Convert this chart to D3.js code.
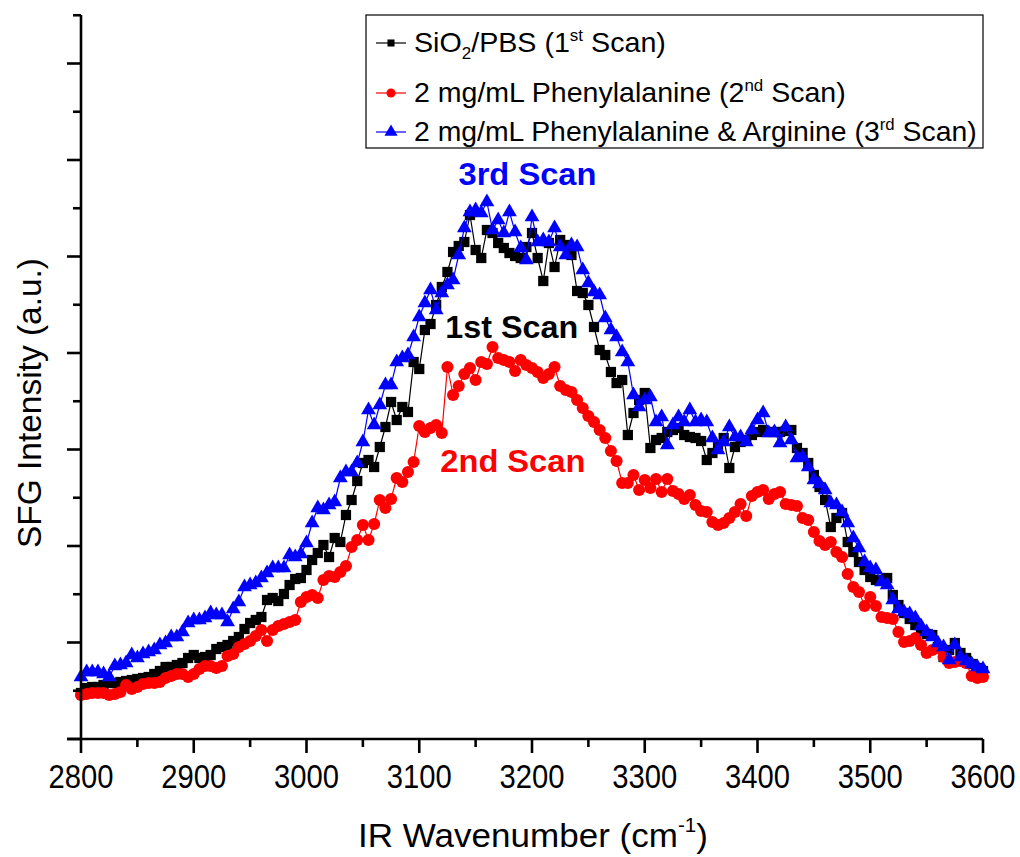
<!DOCTYPE html>
<html><head><meta charset="utf-8">
<script src="https://cdn.jsdelivr.net/npm/d3@7"></script>
<style>
body{margin:0;background:#fff}
svg{display:block}
text{font-family:"Liberation Sans",Arial,sans-serif;fill:#000}
</style>
</head><body>
<svg id="chart" width="1020" height="857"></svg>
<script>
// ---------- data (SFG intensity, arbitrary units) ----------
const wavenumbers = d3.range(2800, 3601, 5);

const scan1 = [46,51,52,52,54,56,56,57,58,59,60,61,62,65,68,72,72,74,76,81,
84,81,82,84,90,92,94,98,102,110,116,119,122,139,141,138,145,154,160,161,
169,179,186,194,182,201,197,224,239,258,276,279,272,292,312,337,319,332,327,377,
370,409,415,434,452,467,487,493,497,524,489,481,509,506,496,491,486,483,481,492,
506,481,458,496,472,499,494,484,448,446,434,412,389,384,367,356,359,304,326,339,
346,291,299,301,307,309,311,304,302,301,298,279,286,294,301,271,292,297,299,304,
307,309,307,307,307,308,309,291,286,276,264,252,239,212,221,226,197,187,177,169,
162,159,159,161,144,134,126,120,114,108,105,104,92,82,89,96,86,81,75,71,68];

const scan2 = [44,45,46,46,46,44,45,47,54,50,52,55,56,56,57,61,63,65,65,62,
65,70,73,73,71,73,83,85,92,95,98,103,109,98,109,113,115,117,119,137,
142,144,141,159,163,162,167,173,192,199,214,199,215,239,231,240,261,257,267,277,
313,307,311,314,306,372,344,353,365,371,359,377,375,392,381,379,377,368,379,374,
371,367,361,365,372,353,349,347,339,331,323,317,309,301,288,278,256,256,264,249,
259,251,260,247,260,248,245,240,244,234,228,227,217,214,216,221,227,235,223,243,
247,249,240,245,247,235,234,233,221,219,207,198,194,197,187,182,165,152,147,133,
142,133,122,121,120,107,97,98,101,94,86,89,91,82,76,77,78,76,63,61,62];

const scan3 = [62,67,67,67,65,62,73,74,76,84,81,85,87,89,94,96,102,102,107,116,
119,119,121,126,124,124,117,130,137,152,154,156,161,166,171,171,171,184,182,185,
196,216,231,229,234,237,261,267,267,276,297,329,314,334,354,354,377,381,384,402,
422,436,449,429,446,454,459,484,511,527,529,526,537,509,519,506,527,507,491,479,
522,497,499,497,511,492,484,494,492,469,456,447,444,421,409,402,387,377,344,332,
339,342,317,322,294,314,322,317,329,317,319,317,301,289,297,312,302,302,297,309,
319,326,306,307,296,312,299,281,282,272,259,255,249,236,234,227,216,201,191,177,
171,169,157,154,139,130,127,125,121,113,107,102,96,92,79,94,82,78,75,72,70];

const xTicks = [2800, 2900, 3000, 3100, 3200, 3300, 3400, 3500, 3600];
const xMinorTicks = [2850, 2950, 3050, 3150, 3250, 3350, 3450, 3550];
const yMajorTicks = [0, 96.5, 193, 289.5, 386, 482.5, 579, 675.5];
const yMinorTicks = [48.25, 144.75, 241.25, 337.75, 434.25, 530.75, 627.25, 723.75];

const series = [
  {name: "scan1", values: scan1, color: "#000000", symbol: d3.symbolSquare, size: 105,
   label: [["SiO",0],["2",1],["/PBS (1",0],["st",2],[" Scan)",0]]},
  {name: "scan2", values: scan2, color: "#ff0000", symbol: d3.symbolCircle, size: 115,
   label: [["2 mg/mL Phenylalanine (2",0],["nd",2],[" Scan)",0]]},
  {name: "scan3", values: scan3, color: "#0000ff", symbol: d3.symbolTriangle, size: 95,
   label: [["2 mg/mL Phenylalanine & Arginine (3",0],["rd",2],[" Scan)",0]]}
];

const annotations = [
  {text: "3rd Scan", color: "#0000ff", x: 3196, y: 554},
  {text: "1st Scan", color: "#000000", x: 3182, y: 401},
  {text: "2nd Scan", color: "#ff0000", x: 3183, y: 267}
];

// ---------- layout ----------
const svg = d3.select("#chart");
const L = 81, R = 983, T = 15, B = 739;
const x = d3.scaleLinear().domain([2800, 3600]).range([L, R]);
const y = d3.scaleLinear().domain([0, 724]).range([B, T]);

function fit(sel, target, anchor) {
  sel.each(function() {
    const bb = this.getBBox();
    const s = target / bb.width;
    const ax = anchor === "middle" ? bb.x + bb.width / 2 : (anchor === "end" ? bb.x + bb.width : bb.x);
    const prev = this.getAttribute("transform") || "";
    this.setAttribute("transform", `${prev} translate(${ax},0) scale(${s},1) translate(${-ax},0)`);
  });
}

// ---------- series ----------
const line = d3.line().x((d, i) => x(wavenumbers[i])).y(d => y(d));
series.forEach(s => {
  const g = svg.append("g");
  g.append("path").attr("d", line(s.values)).attr("fill", "none")
    .attr("stroke", s.color).attr("stroke-width", 1.2);
  g.selectAll("path.m").data(s.values).join("path").attr("class", "m")
    .attr("d", d3.symbol().type(s.symbol).size(s.size))
    .attr("transform", (d, i) => `translate(${x(wavenumbers[i])},${y(d)})`)
    .attr("fill", s.color);
});

// ---------- axes ----------
const axStroke = 2.6;
const xAxis = svg.append("g");
xAxis.append("line").attr("x1", L - 14).attr("x2", R).attr("y1", B).attr("y2", B)
  .attr("stroke", "#000").attr("stroke-width", axStroke);
xAxis.selectAll("line.maj").data(xTicks).join("line").attr("class", "maj")
  .attr("x1", d => x(d)).attr("x2", d => x(d)).attr("y1", B).attr("y2", B + 14)
  .attr("stroke", "#000").attr("stroke-width", axStroke);
xAxis.selectAll("line.min").data(xMinorTicks).join("line").attr("class", "min")
  .attr("x1", d => x(d)).attr("x2", d => x(d)).attr("y1", B).attr("y2", B + 8)
  .attr("stroke", "#000").attr("stroke-width", axStroke);
const xl = xAxis.selectAll("text").data(xTicks).join("text")
  .attr("x", d => x(d)).attr("y", 788).attr("text-anchor", "middle")
  .attr("font-size", 34).text(d => d);
fit(xl, 65, "middle");

const yAxis = svg.append("g");
yAxis.append("line").attr("x1", L).attr("x2", L).attr("y1", T).attr("y2", B)
  .attr("stroke", "#000").attr("stroke-width", axStroke);
yAxis.selectAll("line.maj").data(yMajorTicks).join("line").attr("class", "maj")
  .attr("x1", L - 14).attr("x2", L).attr("y1", d => y(d)).attr("y2", d => y(d))
  .attr("stroke", "#000").attr("stroke-width", axStroke);
yAxis.selectAll("line.min").data(yMinorTicks).join("line").attr("class", "min")
  .attr("x1", L - 8).attr("x2", L).attr("y1", d => y(d)).attr("y2", d => y(d))
  .attr("stroke", "#000").attr("stroke-width", axStroke);

// axis titles
const xt = svg.append("text").attr("x", 533).attr("y", 847).attr("text-anchor", "middle")
  .attr("font-size", 34);
xt.append("tspan").text("IR Wavenumber (cm");
xt.append("tspan").attr("font-size", 20).attr("dy", -15).text("-1");
xt.append("tspan").attr("dy", 15).text(")");
fit(xt, 350, "middle");

const ytG = svg.append("g").attr("transform", "translate(41,403) rotate(-90)");
const yt = ytG.append("text").attr("x", 0).attr("y", 0).attr("text-anchor", "middle")
  .attr("font-size", 34).text("SFG Intensity (a.u.)");
fit(yt, 290, "middle");

// ---------- annotations ----------
const annWidths = [138, 133, 145];
annotations.forEach((a, i) => {
  const t = svg.append("text").attr("x", x(a.x)).attr("y", y(a.y))
    .attr("text-anchor", "middle").attr("font-weight", "bold")
    .attr("font-size", 32).style("fill", a.color).text(a.text);
  fit(t, annWidths[i], "middle");
});

// ---------- legend ----------
const lg = svg.append("g");
lg.append("rect").attr("x", 366).attr("y", 15).attr("width", 617).attr("height", 133)
  .attr("fill", "#fff").attr("stroke", "#000").attr("stroke-width", 1.2);
const rowY = [43, 93, 132];
const legW = [252, 432, 563];
const legSizes = [50, 65, 75];
series.forEach((s, i) => {
  const ry = rowY[i];
  lg.append("line").attr("x1", 376).attr("x2", 406).attr("y1", ry).attr("y2", ry)
    .attr("stroke", s.color).attr("stroke-width", 1.2);
  lg.append("path").attr("d", d3.symbol().type(s.symbol).size(legSizes[i]))
    .attr("transform", `translate(391,${ry})`).attr("fill", s.color);
  const t = lg.append("text").attr("x", 414).attr("y", ry + 9).attr("font-size", 27);
  let shift = 0;
  s.label.forEach(([txt, kind]) => {
    const ts = t.append("tspan").text(txt);
    let target = 0, fs = 27;
    if (kind === 1) { target = 7; fs = 16; }
    if (kind === 2) { target = -11; fs = 16; }
    ts.attr("font-size", fs).attr("dy", target - shift);
    shift = target;
  });
  fit(t, legW[i], "start");
});
</script>
</body></html>
